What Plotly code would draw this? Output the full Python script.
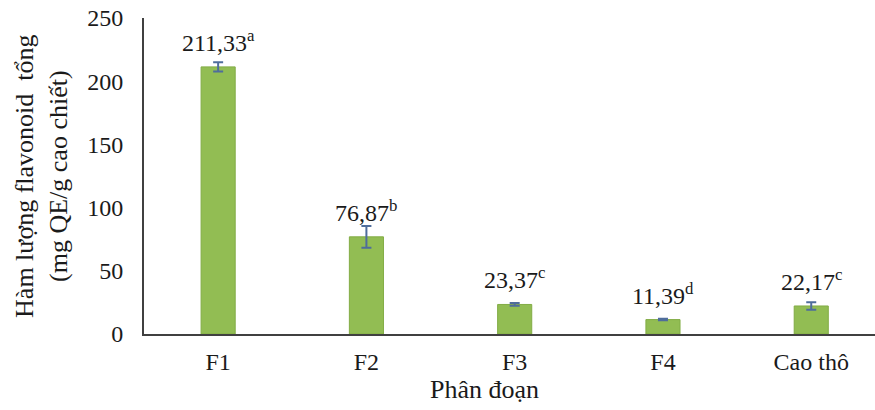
import plotly.graph_objects as go

# Total flavonoid content per fraction
fractions = ["F1", "F2", "F3", "F4", "Cao thô"]
flavonoid = [211.33, 76.87, 23.37, 11.39, 22.17]
std_dev = [3.6, 8.6, 1.1, 0.6, 2.9]
letters = ["a", "b", "c", "d", "c"]

y_ticks = [0, 50, 100, 150, 200, 250]

FONT = "Liberation Serif, Times New Roman, serif"
TEXT = "#1a1a1a"

fig = go.Figure()
fig.add_trace(go.Bar(
    x=fractions,
    y=flavonoid,
    width=0.23,
    marker=dict(color="#92bd53", line=dict(color="#82ac45", width=1)),
    error_y=dict(type="data", array=std_dev, visible=True,
                 color="#4f6d9c", thickness=2, width=5),
))

# Value labels with significance letters
for name, val, let in zip(fractions, flavonoid, letters):
    label = f"{val:.2f}".replace(".", ",") + f"<sup>{let}</sup>"
    fig.add_annotation(x=name, y=val, text=label, showarrow=False,
                       xanchor="center", yanchor="bottom", yshift=9,
                       font=dict(family=FONT, size=24, color=TEXT))

# Axis titles
fig.add_annotation(xref="paper", yref="paper", x=-0.141, y=0.5,
                   text="Hàm lượng flavonoid  tổng<br>(mg QE/g cao chiết)",
                   textangle=-90, showarrow=False, xanchor="center", yanchor="middle",
                   font=dict(family=FONT, size=26, color=TEXT))
fig.add_annotation(xref="paper", yref="paper", x=0.466, y=-0.124,
                   text="Phân đoạn", showarrow=False, xanchor="center", yanchor="top",
                   font=dict(family=FONT, size=26, color=TEXT))

fig.update_layout(
    width=875, height=410,
    margin=dict(l=144, r=0, t=18, b=76),
    paper_bgcolor="white", plot_bgcolor="white",
    showlegend=False,
    font=dict(family=FONT, color=TEXT),
    xaxis=dict(range=[-0.5, 4.43], showline=True, linecolor="#404040", linewidth=2,
               showgrid=False, ticks="", ticklabelstandoff=5,
               tickfont=dict(family=FONT, size=24, color=TEXT)),
    yaxis=dict(range=[0, 250], tickvals=y_ticks, showline=True, linecolor="#404040",
               linewidth=2, showgrid=False, zeroline=False, ticks="",
               ticklabelstandoff=14,
               tickfont=dict(family=FONT, size=24, color=TEXT)),
)

fig.write_html("out.html")
